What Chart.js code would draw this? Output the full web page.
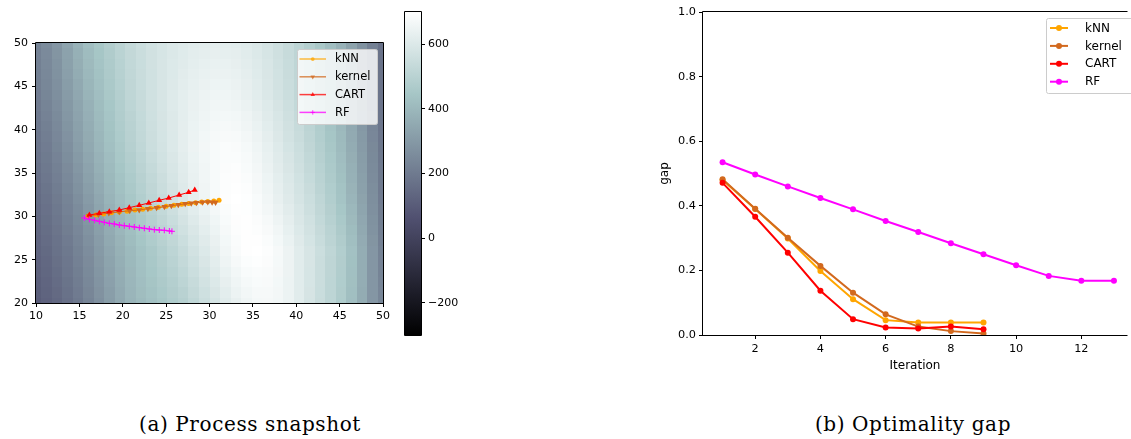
<!DOCTYPE html>
<html>
<head>
<meta charset="utf-8">
<script src="https://cdn.jsdelivr.net/npm/chart.js@4.4.0/dist/chart.umd.min.js"></script>
<style>
  body { margin: 0; background: #fff; }
  #wrap { position: relative; width: 1131px; height: 439px; overflow: hidden; }
  canvas { position: absolute; }
  .cap { position: absolute; top: 412px; transform: translateX(-50%); white-space: nowrap;
         font-family: 'DejaVu Serif', serif; font-size: 20px; letter-spacing: 0.6px; color: #000; }
</style>
</head>
<body>
<div id="wrap">
  <canvas id="snap" width="400" height="340" style="left:0;top:0"></canvas>
  <canvas id="cbar" width="70" height="345" style="left:395px;top:0"></canvas>
  <canvas id="gap" width="491" height="375" style="left:640px;top:0"></canvas>
  <div class="cap" style="left:250px">(a) Process snapshot</div>
  <div class="cap" style="left:913px">(b) Optimality gap</div>
</div>
<script>
// heatmap grid (cell centres) and values, rows from y=20 upwards
const heatX = [10.00, 11.21, 12.42, 13.64, 14.85, 16.06, 17.27, 18.48, 19.70, 20.91, 22.12, 23.33, 24.55, 25.76, 26.97, 28.18, 29.39,
               30.61, 31.82, 33.03, 34.24, 35.45, 36.67, 37.88, 39.09, 40.30, 41.52, 42.73, 43.94, 45.15, 46.36, 47.58, 48.79, 50.00];
const heatY = [20.0, 21.2, 22.4, 23.6, 24.8, 26.0, 27.2, 28.4, 29.6, 30.8, 32.0, 33.2, 34.4, 35.6, 36.8, 38.0, 39.2,
               40.4, 41.6, 42.8, 44.0, 45.2, 46.4, 47.6, 48.8, 50.0];
const heatZ = [
  [100,120,140,165,195,230,270,310,350,385,410,430,450,470,490,520,550,580,610,635,655,668,670,662,645,615,580,545,510,470,420,360,290,240],
  [105,125,146,171,201,236,276,316,355,389,415,436,457,478,500,530,560,590,620,645,663,674,674,665,646,615,581,546,511,472,422,361,290,237],
  [110,130,152,177,207,242,282,322,360,393,420,442,464,486,510,540,570,600,630,654,672,681,679,667,646,615,582,547,512,474,424,362,290,234],
  [115,135,158,183,213,248,288,328,365,397,425,448,471,494,520,550,580,610,640,664,680,687,683,670,647,615,583,548,513,476,426,363,290,231],
  [120,140,164,189,219,254,294,334,370,401,430,454,478,502,530,560,590,620,650,673,689,694,688,672,647,615,584,549,514,478,428,364,290,228],
  [125,145,170,195,225,260,300,340,375,405,435,460,485,510,540,570,600,630,660,683,697,700,692,675,648,615,585,550,515,480,430,365,290,225],
  [130,151,176,202,233,269,309,349,384,414,444,470,496,522,552,582,611,639,667,686,697,696,686,667,640,608,578,543,508,472,422,358,285,221],
  [135,157,182,209,241,278,318,358,393,423,453,480,507,534,564,594,622,649,673,690,696,692,679,659,632,601,571,536,501,464,414,351,280,217],
  [140,163,188,216,249,287,327,367,402,432,462,490,518,546,576,606,633,658,680,693,696,688,673,651,624,594,564,529,494,456,406,344,275,213],
  [145,169,194,223,257,296,336,376,411,441,471,500,529,558,588,618,644,668,686,697,695,684,666,643,616,587,557,522,487,448,398,337,270,209],
  [150,175,200,230,265,305,345,385,420,450,480,510,540,570,600,630,655,677,693,700,695,680,660,635,608,580,550,515,480,440,390,330,265,205],
  [156,181,207,238,274,314,354,393,428,458,488,518,547,576,605,634,657,677,691,697,690,675,654,629,602,574,544,509,474,434,384,325,261,202],
  [162,187,214,246,283,323,363,401,436,466,496,526,554,582,610,637,659,677,690,693,686,670,649,623,596,568,537,503,468,428,378,320,257,199],
  [168,193,221,254,292,332,372,409,444,474,504,534,561,588,615,641,661,678,688,690,681,665,643,617,590,562,531,497,462,422,372,315,253,196],
  [174,199,228,262,301,341,381,417,452,482,512,542,568,594,620,644,663,678,687,686,677,660,638,611,584,556,524,491,456,416,366,310,249,193],
  [180,205,235,270,310,350,390,425,460,490,520,550,575,600,625,648,665,678,685,683,672,655,632,605,578,550,518,485,450,410,360,305,245,190],
  [185,211,241,277,317,357,396,431,465,495,524,553,577,601,624,646,662,673,679,676,665,648,625,599,572,544,513,480,445,405,355,300,241,187],
  [190,217,247,284,324,364,402,437,470,500,528,556,579,602,624,644,658,669,673,669,657,640,618,593,567,539,508,475,440,400,350,295,237,184],
  [195,223,253,291,331,371,408,443,475,505,532,559,581,603,623,641,655,664,667,662,650,633,611,587,561,533,502,470,435,395,345,290,233,181],
  [200,229,259,298,338,378,414,449,480,510,536,562,583,604,622,639,651,660,661,655,642,625,604,581,556,528,497,465,430,390,340,285,229,178],
  [205,235,265,305,345,385,420,455,485,515,540,565,585,605,622,637,648,655,655,648,635,618,597,575,550,522,492,460,425,385,335,280,225,175],
  [209,239,270,311,352,392,426,460,489,518,542,566,585,603,619,632,642,649,649,642,630,614,594,572,548,520,491,459,424,384,334,279,224,174],
  [213,243,275,317,359,399,432,464,493,521,544,566,584,601,616,628,637,643,642,636,625,609,590,569,545,518,489,458,423,383,333,278,223,173],
  [217,247,280,323,366,406,438,469,497,524,546,567,584,600,612,623,631,636,636,630,619,605,587,566,543,516,488,457,422,382,332,277,222,172],
  [221,251,285,329,373,413,444,473,501,527,548,567,583,598,609,619,626,630,629,624,614,600,583,563,540,514,486,456,421,381,331,276,221,171],
  [225,255,290,335,380,420,450,478,505,530,550,568,583,596,606,614,620,624,623,618,609,596,580,560,538,512,485,455,420,380,330,275,220,170]
];
const cbMin = -300, cbMax = 700;
const cbTicks = [-200, 0, 200, 400, 600];
const snapXTicks = [10, 15, 20, 25, 30, 35, 40, 45, 50];
const snapYTicks = [20, 25, 30, 35, 40, 45, 50];

// trajectories in the snapshot
const knnX = [16.0, 16.9, 17.8, 18.7, 19.6, 20.5, 21.4, 22.3, 23.2, 24.1, 25.0, 25.9, 26.8, 27.6, 28.4, 29.1, 29.8, 30.5, 31.1];
const knnY = [30.05, 30.15, 30.28, 30.40, 30.50, 30.60, 30.72, 30.83, 30.94, 31.05, 31.16, 31.27, 31.38, 31.48, 31.57, 31.64, 31.70, 31.76, 31.85];
const kernelX = [16.1, 17.2, 18.4, 19.6, 20.8, 21.9, 22.9, 23.9, 24.8, 25.6, 26.4, 27.2, 27.9, 28.5, 29.2, 29.8, 30.3, 30.7];
const kernelY = [30.05, 30.20, 30.38, 30.52, 30.64, 30.74, 30.87, 30.98, 31.10, 31.22, 31.33, 31.44, 31.52, 31.58, 31.62, 31.64, 31.62, 31.60];
const cartX = [16.15, 17.3, 18.45, 19.6, 20.75, 21.9, 23.0, 24.2, 25.3, 26.5, 27.6, 28.3];
const cartY = [30.15, 30.35, 30.54, 30.73, 31.00, 31.27, 31.54, 31.85, 32.11, 32.46, 32.77, 33.04];
const rfX = [15.57, 16.15, 16.76, 17.30, 17.88, 18.45, 19.03, 19.60, 20.18, 20.76, 21.33, 21.91, 22.49, 23.06, 23.64, 24.21, 24.79, 25.37, 25.67];
const rfY = [29.81, 29.65, 29.54, 29.42, 29.31, 29.19, 29.12, 29.00, 28.92, 28.85, 28.77, 28.69, 28.62, 28.54, 28.46, 28.42, 28.39, 28.31, 28.27];

// optimality gap per iteration
const iters9 = [1, 2, 3, 4, 5, 6, 7, 8, 9];
const iters13 = [1, 2, 3, 4, 5, 6, 7, 8, 9, 10, 11, 12, 13];
const gapKnn = [0.480, 0.390, 0.299, 0.198, 0.111, 0.046, 0.039, 0.039, 0.039];
const gapKernel = [0.482, 0.391, 0.301, 0.214, 0.131, 0.064, 0.026, 0.012, 0.005];
const gapCart = [0.471, 0.366, 0.255, 0.137, 0.049, 0.023, 0.020, 0.026, 0.018];
const gapRf = [0.535, 0.497, 0.460, 0.424, 0.389, 0.353, 0.319, 0.284, 0.250, 0.216, 0.183, 0.168, 0.168];
const gapXTicks = [2, 4, 6, 8, 10, 12];
const gapYTicks = [0, 0.2, 0.4, 0.6, 0.8, 1.0];

Chart.defaults.font.family = "'DejaVu Sans', sans-serif";
Chart.defaults.font.size = 11;
Chart.defaults.color = '#000';

const pts = (xs, ys) => xs.map((x, i) => ({ x: x, y: ys[i] }));

// matplotlib "bone" colormap
function bone(t) {
  t = Math.max(0, Math.min(1, t));
  const r = t < 0.746032 ? t * 0.652778 / 0.746032 : 0.652778 + (t - 0.746032) * 0.347222 / 0.253968;
  const g = t < 0.365079 ? t * 0.319444 / 0.365079
          : t < 0.746032 ? 0.319444 + (t - 0.365079) * 0.458334 / 0.380953
          : 0.777778 + (t - 0.746032) * 0.222222 / 0.253968;
  const b = t < 0.365079 ? t * 0.444444 / 0.365079 : 0.444444 + (t - 0.365079) * 0.555556 / 0.634921;
  return 'rgb(' + Math.round(r * 255) + ',' + Math.round(g * 255) + ',' + Math.round(b * 255) + ')';
}

function cellEdges(arr) {
  const n = arr.length;
  const e = [arr[0] - (arr[1] - arr[0]) / 2];
  for (let i = 1; i < n; i++) e.push((arr[i - 1] + arr[i]) / 2);
  e.push(arr[n - 1] + (arr[n - 1] - arr[n - 2]) / 2);
  return e;
}

const heatmapPlugin = {
  id: 'heatmap',
  beforeDatasetsDraw(chart) {
    const { ctx, chartArea: a, scales: { x, y } } = chart;
    const xe = cellEdges(heatX), ye = cellEdges(heatY);
    ctx.save();
    ctx.beginPath();
    ctx.rect(a.left, a.top, a.width, a.height);
    ctx.clip();
    for (let j = 0; j < heatY.length; j++) {
      const y0 = Math.round(y.getPixelForValue(ye[j + 1])), y1 = Math.round(y.getPixelForValue(ye[j]));
      for (let i = 0; i < heatX.length; i++) {
        const x0 = Math.round(x.getPixelForValue(xe[i])), x1 = Math.round(x.getPixelForValue(xe[i + 1]));
        ctx.fillStyle = bone((heatZ[j][i] - cbMin) / (cbMax - cbMin));
        ctx.fillRect(x0, y0, x1 - x0, y1 - y0);
      }
    }
    ctx.restore();
  }
};

const colorbarPlugin = {
  id: 'colorbar',
  beforeDatasetsDraw(chart) {
    const { ctx, chartArea: a } = chart;
    const grad = ctx.createLinearGradient(0, a.bottom, 0, a.top);
    [0, 0.365079, 0.746032, 1].forEach(t => grad.addColorStop(t, bone(t)));
    ctx.fillStyle = grad;
    ctx.fillRect(a.left, a.top, a.width, a.height);
  }
};

// axes spines
const framePlugin = {
  id: 'frame',
  afterDatasetsDraw(chart, args, opts) {
    const { ctx, chartArea: a } = chart;
    const sides = opts.sides || ['left', 'right', 'top', 'bottom'];
    ctx.save();
    ctx.strokeStyle = '#000';
    ctx.lineWidth = 1;
    ctx.beginPath();
    const L = Math.round(a.left) - 0.5, R = Math.round(a.right) + 0.5, T = Math.round(a.top) - 0.5, B = Math.round(a.bottom) + 0.5;
    if (sides.includes('left')) { ctx.moveTo(L, T); ctx.lineTo(L, B); }
    if (sides.includes('right')) { ctx.moveTo(R, T); ctx.lineTo(R, B); }
    if (sides.includes('top')) { ctx.moveTo(L, T); ctx.lineTo(R, T); }
    if (sides.includes('bottom')) { ctx.moveTo(L, B); ctx.lineTo(R, B); }
    ctx.stroke();
    ctx.restore();
  }
};

function drawMarker(ctx, style, x, y, r, rot, color) {
  ctx.save();
  ctx.fillStyle = color;
  ctx.strokeStyle = color;
  ctx.beginPath();
  if (style === 'circle') {
    ctx.arc(x, y, r, 0, Math.PI * 2);
    ctx.fill();
  } else if (style === 'triangle') {
    let rad = (rot || 0) * Math.PI / 180;
    for (let k = 0; k < 3; k++) {
      const px = x + Math.sin(rad) * r, py = y - Math.cos(rad) * r;
      k === 0 ? ctx.moveTo(px, py) : ctx.lineTo(px, py);
      rad += Math.PI * 2 / 3;
    }
    ctx.closePath();
    ctx.fill();
  } else if (style === 'cross') {
    ctx.lineWidth = 1;
    ctx.moveTo(x - r, y); ctx.lineTo(x + r, y);
    ctx.moveTo(x, y - r); ctx.lineTo(x, y + r);
    ctx.stroke();
  }
  ctx.restore();
}

// matplotlib-like legend box
const boxLegendPlugin = {
  id: 'boxLegend',
  afterDraw(chart, args, o) {
    const { ctx, chartArea: a } = chart;
    const left = a.right - o.fromRight, top = a.top + o.top;
    ctx.save();
    ctx.beginPath();
    ctx.roundRect(left + 0.5, top + 0.5, o.width, o.height, 2);
    ctx.fillStyle = 'rgba(255,255,255,0.8)';
    ctx.fill();
    ctx.strokeStyle = '#cccccc';
    ctx.lineWidth = 1;
    ctx.stroke();
    chart.data.datasets.forEach((ds, k) => {
      const yy = top + o.first + k * o.step;
      ctx.save();
      ctx.globalAlpha = o.alpha;
      ctx.strokeStyle = ds.borderColor;
      ctx.lineWidth = o.lineWidth;
      ctx.beginPath();
      ctx.moveTo(left + o.handleStart, yy);
      ctx.lineTo(left + o.handleStart + o.handle, yy);
      ctx.stroke();
      drawMarker(ctx, ds.pointStyle, left + o.handleStart + o.handle / 2, yy, ds.pointRadius * o.markerScale, ds.pointRotation, ds.borderColor);
      ctx.restore();
      ctx.fillStyle = '#000';
      ctx.font = o.fontSize + "px 'DejaVu Sans', sans-serif";
      ctx.textBaseline = 'middle';
      ctx.textAlign = 'left';
      ctx.fillText(ds.label, left + o.textAt, yy + 0.5);
    });
    ctx.restore();
  }
};

const tickGrid = { drawOnChartArea: false, drawTicks: true, tickLength: 4, color: '#000', lineWidth: 1 };

// (a) process snapshot
new Chart(document.getElementById('snap'), {
  type: 'scatter',
  data: {
    datasets: [
      { label: 'kNN', data: pts(knnX, knnY), showLine: true, borderColor: 'orange', backgroundColor: 'orange',
        borderWidth: 1, pointStyle: 'circle', pointRadius: 2.5, pointBorderWidth: 0, order: 3 },
      { label: 'kernel', data: pts(kernelX, kernelY), showLine: true, borderColor: 'chocolate', backgroundColor: 'chocolate',
        borderWidth: 1, pointStyle: 'triangle', pointRotation: 180, pointRadius: 3.5, pointBorderWidth: 0, order: 2 },
      { label: 'CART', data: pts(cartX, cartY), showLine: true, borderColor: 'red', backgroundColor: 'red',
        borderWidth: 1, pointStyle: 'triangle', pointRadius: 3.5, pointBorderWidth: 0, order: 1 },
      { label: 'RF', data: pts(rfX, rfY), showLine: true, borderColor: 'magenta', backgroundColor: 'magenta',
        borderWidth: 1, pointStyle: 'cross', pointRadius: 3, pointBorderWidth: 1, order: 0 }
    ]
  },
  options: {
    responsive: false,
    animation: false,
    layout: { padding: { top: 43, right: 17 } },
    plugins: {
      legend: { display: false },
      tooltip: { enabled: false },
      frame: {},
      boxLegend: { fromRight: 86, top: 6, width: 80, height: 75, first: 10, step: 17.8, handleStart: 2.5, handle: 26.5,
                   textAt: 38, lineWidth: 1.5, fontSize: 11.5, alpha: 0.75, markerScale: 0.75 }
    },
    scales: {
      x: {
        type: 'linear', min: 10, max: 50,
        afterBuildTicks: s => { s.ticks = snapXTicks.map(v => ({ value: v })); },
        afterFit: s => { s.height = 37; },
        grid: tickGrid, border: { display: false },
        ticks: { padding: 3, maxRotation: 0 }
      },
      y: {
        type: 'linear', min: 20, max: 50,
        afterBuildTicks: s => { s.ticks = snapYTicks.map(v => ({ value: v })); },
        afterFit: s => { s.width = 36; },
        grid: tickGrid, border: { display: false },
        ticks: { padding: 4 }
      }
    }
  },
  plugins: [heatmapPlugin, framePlugin, boxLegendPlugin]
});

// colorbar
new Chart(document.getElementById('cbar'), {
  type: 'scatter',
  data: { datasets: [] },
  options: {
    responsive: false,
    animation: false,
    layout: { padding: { top: 12, bottom: 10, left: 10 } },
    plugins: { legend: { display: false }, tooltip: { enabled: false }, frame: {} },
    scales: {
      x: { display: false, min: 0, max: 1 },
      y: {
        position: 'right', min: cbMin, max: cbMax,
        afterBuildTicks: s => { s.ticks = cbTicks.map(v => ({ value: v })); },
        afterFit: s => { s.width = 44; },
        grid: tickGrid, border: { display: false },
        ticks: { padding: 3, callback: v => String(v).replace('-', '\u2212') }
      }
    }
  },
  plugins: [colorbarPlugin, framePlugin]
});

// (b) optimality gap
const gapLine = (label, xs, ys, color, order) => ({
  label: label, data: pts(xs, ys), showLine: true, borderColor: color, backgroundColor: color,
  borderWidth: 2, pointStyle: 'circle', pointRadius: 3, pointBorderWidth: 0, order: order
});

new Chart(document.getElementById('gap'), {
  type: 'scatter',
  data: {
    datasets: [
      gapLine('kNN', iters9, gapKnn, 'orange', 3),
      gapLine('kernel', iters9, gapKernel, 'chocolate', 2),
      gapLine('CART', iters9, gapCart, 'red', 1),
      gapLine('RF', iters13, gapRf, 'magenta', 0)
    ]
  },
  options: {
    responsive: false,
    animation: false,
    layout: { padding: { top: 12 } },
    plugins: {
      legend: { display: false },
      tooltip: { enabled: false },
      frame: { sides: ['left', 'top', 'bottom'] },
      boxLegend: { fromRight: 81, top: 6, width: 90, height: 75, first: 10, step: 17.9, handleStart: 4, handle: 18,
                   textAt: 39, lineWidth: 2, fontSize: 12, alpha: 1, markerScale: 1 }
    },
    scales: {
      x: {
        type: 'linear', min: 0.4, max: 13.4,
        afterBuildTicks: s => { s.ticks = gapXTicks.map(v => ({ value: v })); },
        afterFit: s => { s.height = 40; },
        grid: tickGrid, border: { display: false },
        ticks: { padding: 3, maxRotation: 0, font: { size: 11.3 } },
        title: { display: true, text: 'Iteration', font: { size: 12 }, padding: { top: 0, bottom: 2 } }
      },
      y: {
        type: 'linear', min: 0, max: 1,
        afterBuildTicks: s => { s.ticks = gapYTicks.map(v => ({ value: v })); },
        afterFit: s => { s.width = 63; },
        grid: tickGrid, border: { display: false },
        ticks: { padding: 3, font: { size: 11.3 }, callback: v => v.toFixed(1) },
        title: { display: true, text: 'gap', font: { size: 12 }, padding: { top: 18, bottom: 0 } }
      }
    }
  },
  plugins: [framePlugin, boxLegendPlugin]
});
</script>
</body>
</html>
